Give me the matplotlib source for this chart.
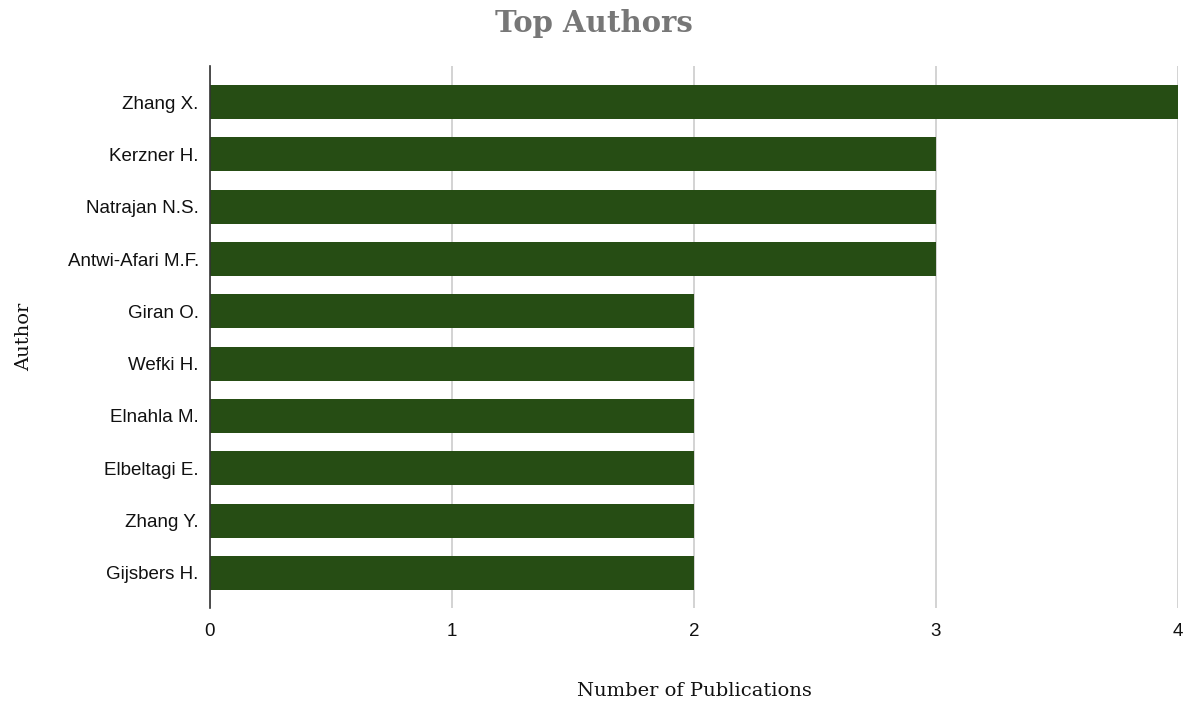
import matplotlib
matplotlib.use("Agg")
import matplotlib.pyplot as plt

authors = ["Zhang X.", "Kerzner H.", "Natrajan N.S.", "Antwi-Afari M.F.", "Giran O.",
           "Wefki H.", "Elnahla M.", "Elbeltagi E.", "Zhang Y.", "Gijsbers H."]
publications = [4, 3, 3, 3, 2, 2, 2, 2, 2, 2]
xticks = [0, 1, 2, 3, 4]

fig = plt.figure(figsize=(11.83, 7.01), dpi=100)
ax = fig.add_axes([0.1775, 0.1327, 0.8183, 0.7731])

ypos = list(range(len(authors)))
ax.barh(ypos, publications, height=0.65, color="#264d14", zorder=3)
ax.set_ylim(len(authors) - 1 + 0.67, -0.69)
ax.set_xlim(0, 4)
ax.set_yticks(ypos)
ax.set_yticklabels(authors, fontsize=13.5, family="Liberation Sans", color="#111111")
ax.set_xticks(xticks)
ax.set_xticklabels([str(t) for t in xticks], fontsize=13.5, family="Liberation Sans", color="#111111")
ax.tick_params(axis="both", length=0)
ax.tick_params(axis="y", pad=8)
ax.tick_params(axis="x", pad=11)
ax.grid(axis="x", color="#cccccc", linewidth=1.2, zorder=0)
for s in ["top", "right", "bottom"]:
    ax.spines[s].set_visible(False)
ax.spines["left"].set_color("#333333")
ax.spines["left"].set_linewidth(1.2)
ax.spines["left"].set_zorder(4)

ax.set_xlabel("Number of Publications", fontsize=14, family="DejaVu Serif", color="#111111", labelpad=30)
ax.set_ylabel("Author", fontsize=14, family="DejaVu Serif", color="#111111")
ax.yaxis.set_label_coords(-0.183, 0.5)
fig.text(0.502, 0.966, "Top Authors", ha="center", va="center", fontsize=21, fontweight="bold",
         family="DejaVu Serif", color="#777777")

fig.savefig("out.png", dpi=100)
